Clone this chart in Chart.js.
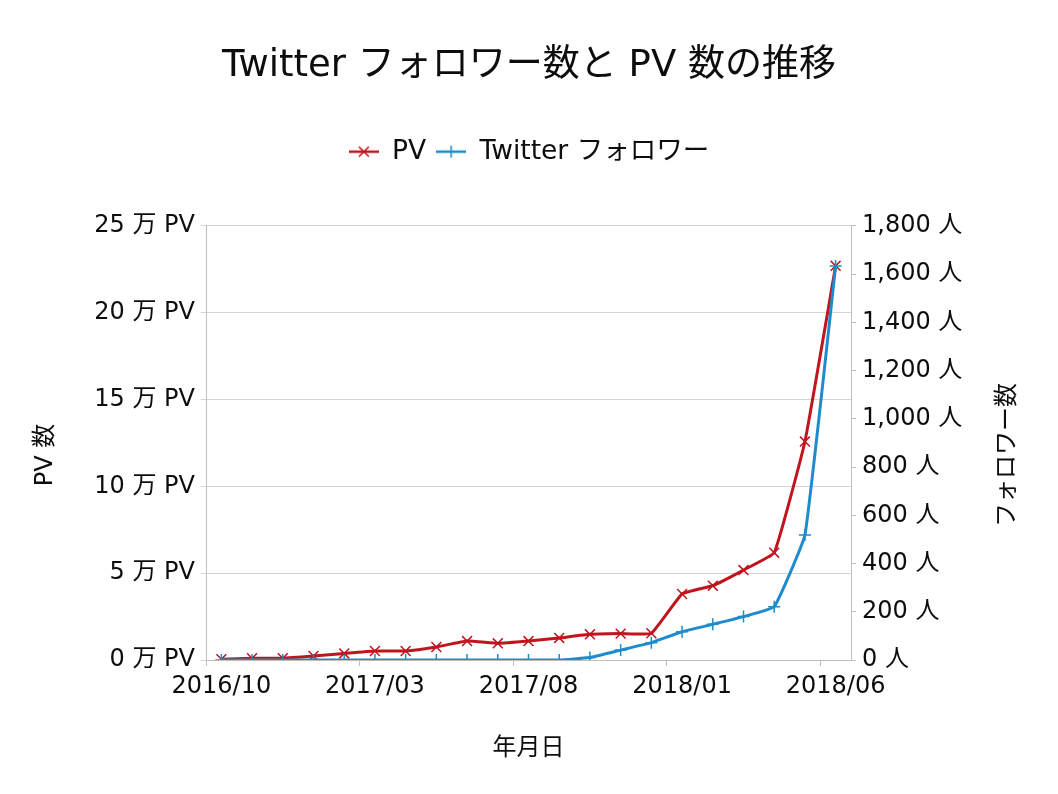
<!DOCTYPE html>
<html>
<head>
<meta charset="utf-8">
<script src="https://cdn.jsdelivr.net/npm/chart.js@4.4.1/dist/chart.umd.min.js"></script>
<style>
  html, body { margin: 0; padding: 0; background: #fff; }
  #wrap { position: relative; width: 1058px; height: 794px; }
</style>
</head>
<body>
<div id="wrap"><canvas id="chart" width="1058" height="794"></canvas></div>
<script>
const months = [
  "2016/10", "2016/11", "2016/12", "2017/01", "2017/02", "2017/03", "2017/04",
  "2017/05", "2017/06", "2017/07", "2017/08", "2017/09", "2017/10", "2017/11",
  "2017/12", "2018/01", "2018/02", "2018/03", "2018/04", "2018/05", "2018/06",
];
const shownMonths = ["2016/10", "2017/03", "2017/08", "2018/01", "2018/06"];
const pvCounts = [
  500, 1000, 1000, 2300, 3800, 5200, 5200, 7500, 10900, 9600, 10900,
  12700, 14800, 15200, 15400, 38000, 42800, 51800, 61800, 125800, 227000,
];
const followerCounts = [
  0, 0, 0, 0, 0, 0, 0, 0, 0, 0, 0,
  0, 10, 41, 72, 117, 148, 180, 221, 518, 1634,
];

const FONT = "'DejaVu Sans', 'Noto Sans CJK JP', sans-serif";
const TEXT = "#0d0d0d";
const GRID = "#d4d4d4";
const AXIS = "#bfbfbf";
const RED = "#c0141f";
const BLUE = "#1e8bcd";

// legend sample: short line with the marker on it
function legendIcon(color, rotated) {
  const c = document.createElement("canvas");
  c.width = 30;
  c.height = 16;
  const g = c.getContext("2d");
  g.strokeStyle = color;
  g.lineWidth = 2.5;
  g.beginPath();
  g.moveTo(0, 8);
  g.lineTo(30, 8);
  g.stroke();
  g.lineWidth = 1.5;
  g.beginPath();
  if (rotated) {
    g.moveTo(10, 3); g.lineTo(20, 13);
    g.moveTo(20, 3); g.lineTo(10, 13);
  } else {
    g.moveTo(15, 2); g.lineTo(15, 14);
  }
  g.stroke();
  return c;
}
const icons = [legendIcon(RED, true), legendIcon(BLUE, false)];

// both vertical axis titles read bottom-to-top
const axisTitles = {
  id: "axisTitles",
  afterDraw(chart) {
    const { ctx, chartArea, scales } = chart;
    const midY = (chartArea.top + chartArea.bottom) / 2 + 12;
    ctx.save();
    ctx.font = "24px " + FONT;
    ctx.fillStyle = TEXT;
    ctx.textAlign = "center";
    ctx.textBaseline = "middle";
    [[scales.y.left + 46, "PV 数"], [scales.y1.right - 50, "フォロワー数"]].forEach(([x, text]) => {
      ctx.save();
      ctx.translate(x, midY);
      ctx.rotate(-Math.PI / 2);
      ctx.fillText(text, 0, 0);
      ctx.restore();
    });
    ctx.restore();
  },
};

new Chart(document.getElementById("chart"), {
  type: "line",
  data: {
    labels: months,
    datasets: [
      {
        label: "PV",
        data: pvCounts,
        yAxisID: "y",
        borderColor: RED,
        backgroundColor: RED,
        borderWidth: 3,
        pointStyle: "crossRot",
        pointRadius: 7,
        pointBorderWidth: 1.5,
        tension: 0.1,
        order: 1,
      },
      {
        label: "Twitter フォロワー",
        data: followerCounts,
        yAxisID: "y1",
        borderColor: BLUE,
        backgroundColor: BLUE,
        borderWidth: 3,
        pointStyle: "cross",
        pointRadius: 6,
        pointBorderWidth: 1.5,
        tension: 0.1,
        order: 0,
      },
    ],
  },
  options: {
    responsive: false,
    animation: false,
    devicePixelRatio: 1,
    layout: { padding: 0 },
    plugins: {
      title: {
        display: true,
        text: "Twitter フォロワー数と PV 数の推移",
        color: TEXT,
        font: { family: FONT, size: 37, weight: "normal", lineHeight: 1.2 },
        padding: { top: 44, bottom: 40 },
      },
      legend: {
        display: true,
        labels: {
          color: TEXT,
          font: { family: FONT, size: 26.5 },
          usePointStyle: true,
          pointStyleWidth: 30,
          padding: 10,
          sort: (a, b) => a.datasetIndex - b.datasetIndex,
          generateLabels(chart) {
            const items = Chart.defaults.plugins.legend.labels.generateLabels(chart);
            items.forEach((it) => { it.pointStyle = icons[it.datasetIndex]; });
            return items;
          },
        },
      },
      // empty spacer between the legend and the plot
      subtitle: {
        display: true,
        text: "",
        weight: 500,
        font: { size: 51, lineHeight: 1 },
        padding: 0,
      },
      tooltip: { enabled: false },
    },
    scales: {
      x: {
        offset: true,
        afterFit: (s) => { s.height = 134; },
        grid: {
          offset: true,
          drawOnChartArea: false,
          drawTicks: true,
          tickLength: 6,
          color: (c) => (c.index !== undefined && c.index % 5 === 0 ? AXIS : "rgba(0,0,0,0)"),
        },
        border: { display: true, color: AXIS, width: 1 },
        ticks: {
          autoSkip: false,
          maxRotation: 0,
          padding: 6,
          color: TEXT,
          font: { family: FONT, size: 24 },
          callback: (v, i) => (shownMonths.includes(months[i]) ? months[i] : ""),
        },
        title: {
          display: true,
          text: "年月日",
          color: TEXT,
          font: { family: FONT, size: 24, lineHeight: 1.2 },
          padding: { top: 4, bottom: 31 },
        },
      },
      y: {
        position: "left",
        min: 0,
        max: 250000,
        afterFit: (s) => { s.width = 206; },
        grid: { color: GRID, tickLength: 5, drawTicks: true },
        border: { display: true, color: AXIS, width: 1 },
        ticks: {
          stepSize: 50000,
          padding: 6,
          color: TEXT,
          font: { family: FONT, size: 24 },
          callback: (v) => v / 10000 + " 万 PV",
        },
      },
      y1: {
        position: "right",
        min: 0,
        max: 1800,
        afterFit: (s) => { s.width = 207; },
        grid: { drawOnChartArea: false, color: AXIS, tickLength: 5, drawTicks: true },
        border: { display: true, color: AXIS, width: 1 },
        ticks: {
          stepSize: 200,
          padding: 6,
          color: TEXT,
          font: { family: FONT, size: 24 },
          callback: (v) => v.toLocaleString("en-US") + " 人",
        },
      },
    },
  },
  plugins: [axisTitles],
});
</script>
</body>
</html>
